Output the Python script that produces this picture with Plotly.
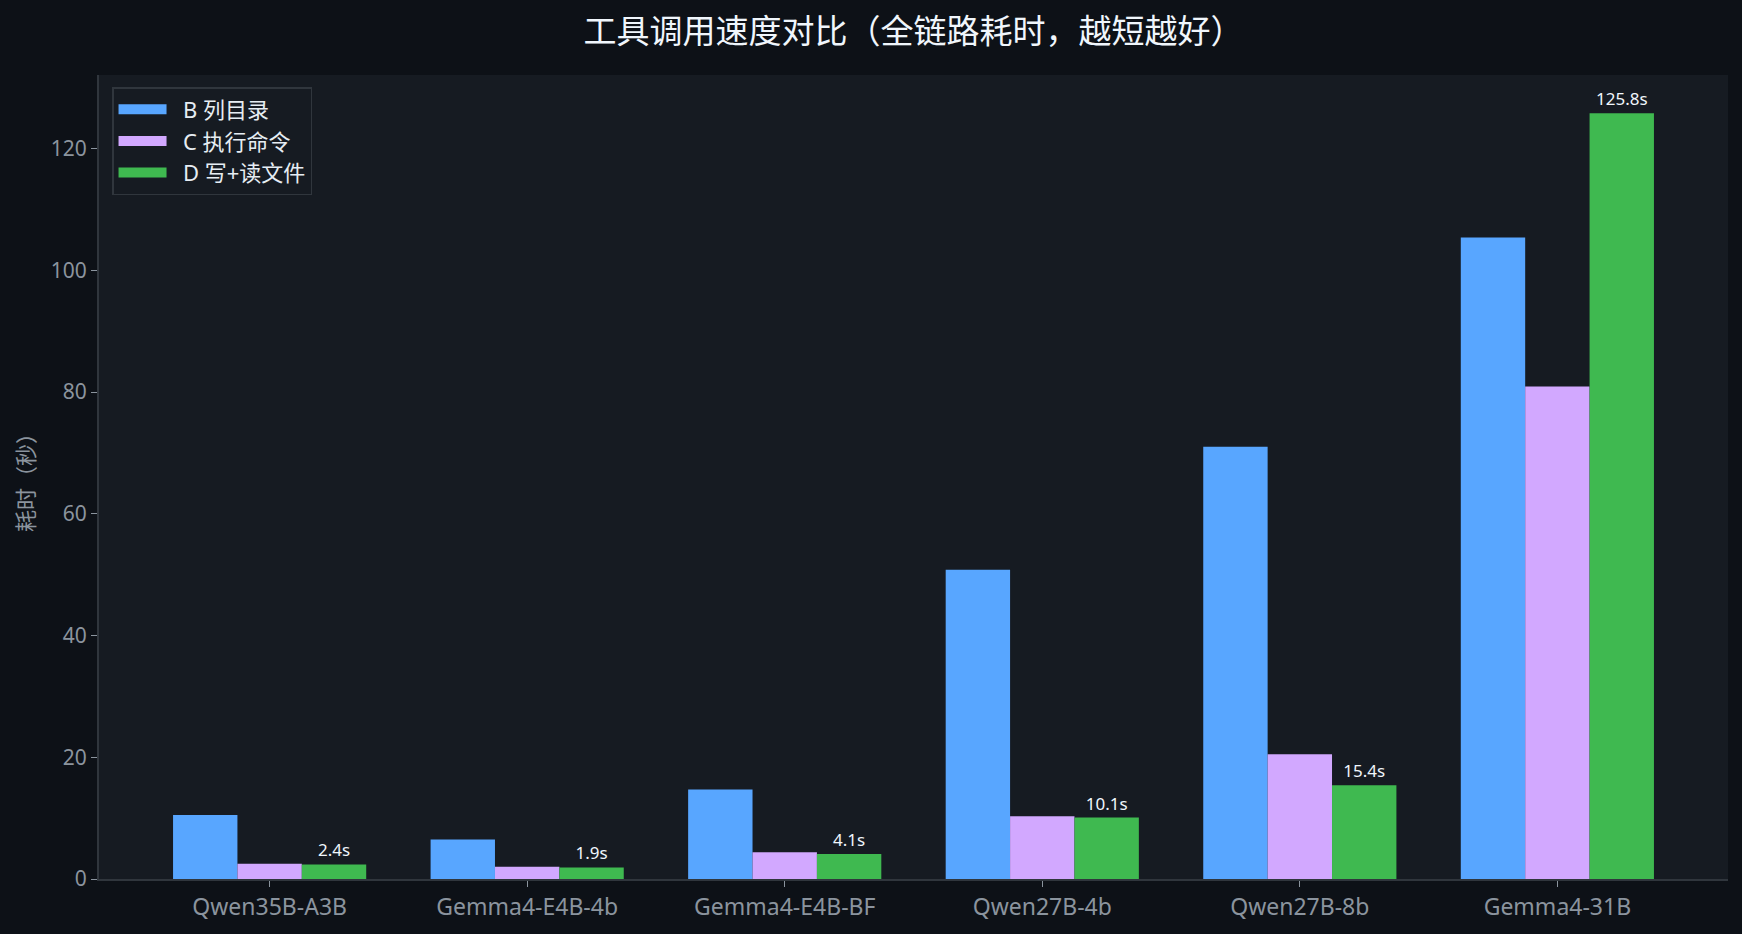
import plotly.graph_objects as go

models = ["Qwen35B-A3B", "Gemma4-E4B-4b", "Gemma4-E4B-BF", "Qwen27B-4b", "Qwen27B-8b", "Gemma4-31B"]
list_dir = [10.5, 6.5, 14.7, 50.8, 71.0, 105.4]
exec_cmd = [2.5, 2.0, 4.4, 10.3, 20.5, 80.9]
write_read = [2.4, 1.9, 4.1, 10.1, 15.4, 125.8]

series_names = ["B 列目录", "C 执行命令", "D 写+读文件"]
colors = ["#58a6ff", "#d2a8ff", "#3fb950"]

FONT = "Noto Sans, Noto Sans CJK SC, sans-serif"

fig = go.Figure()

for name, vals, col in zip(series_names, [list_dir, exec_cmd, write_read], colors):
    is_d = name.startswith("D")
    fig.add_trace(go.Bar(
        x=models, y=vals, name=name, marker=dict(color=col, line=dict(width=0)),
        showlegend=False,
        text=[f"{v}s" for v in vals] if is_d else None,
        textposition="outside" if is_d else "none",
        textfont=dict(size=17, color="#f0f6fc", family=FONT),
        constraintext="none", cliponaxis=False,
    ))

# wide legend swatches like the original
for name, col in zip(series_names, colors):
    fig.add_trace(go.Scatter(x=[None], y=[None], mode="lines", name="\u00a0\u00a0" + name,
                             line=dict(color=col, width=16)))

fig.update_layout(
    width=1742, height=934,
    paper_bgcolor="#0d1117", plot_bgcolor="#161b22",
    margin=dict(l=99, r=14, t=75, b=51),
    barmode="group", bargap=0.25, bargroupgap=0,
    font=dict(family=FONT, color="#8b949e"),
    title=dict(text="工具调用速度对比（全链路耗时，越短越好）", x=0.5, xref="paper",
               xanchor="center", y=0.966, yanchor="middle",
               font=dict(size=33, color="#f0f6fc", family=FONT)),
    legend=dict(x=0.008, y=0.985, xanchor="left", yanchor="top",
                bgcolor="#161b22", bordercolor="#30363d", borderwidth=1.5,
                font=dict(size=22, color="#e6edf3", family=FONT), itemwidth=48,
                tracegroupgap=0),
    showlegend=True,
)

fig.update_xaxes(range=[-0.6625, 5.6625], showline=True, linecolor="#30363d", linewidth=2,
                 ticks="outside", ticklen=6, tickcolor="#8b949e", showgrid=False,
                 tickfont=dict(size=23, color="#8b949e"), zeroline=False)
fig.update_yaxes(range=[0, 132.09], showline=True, linecolor="#30363d", linewidth=2,
                 ticks="outside", ticklen=6, tickcolor="#8b949e", showgrid=False,
                 tickvals=[0, 20, 40, 60, 80, 100, 120],
                 tickfont=dict(size=21, color="#8b949e"), zeroline=False,
                 title=dict(text="耗时（秒）", font=dict(size=22, color="#8b949e"), standoff=10))

fig.write_html("out.html", config={"displayModeBar": False},
               post_script="document.body.style.margin='0';")
